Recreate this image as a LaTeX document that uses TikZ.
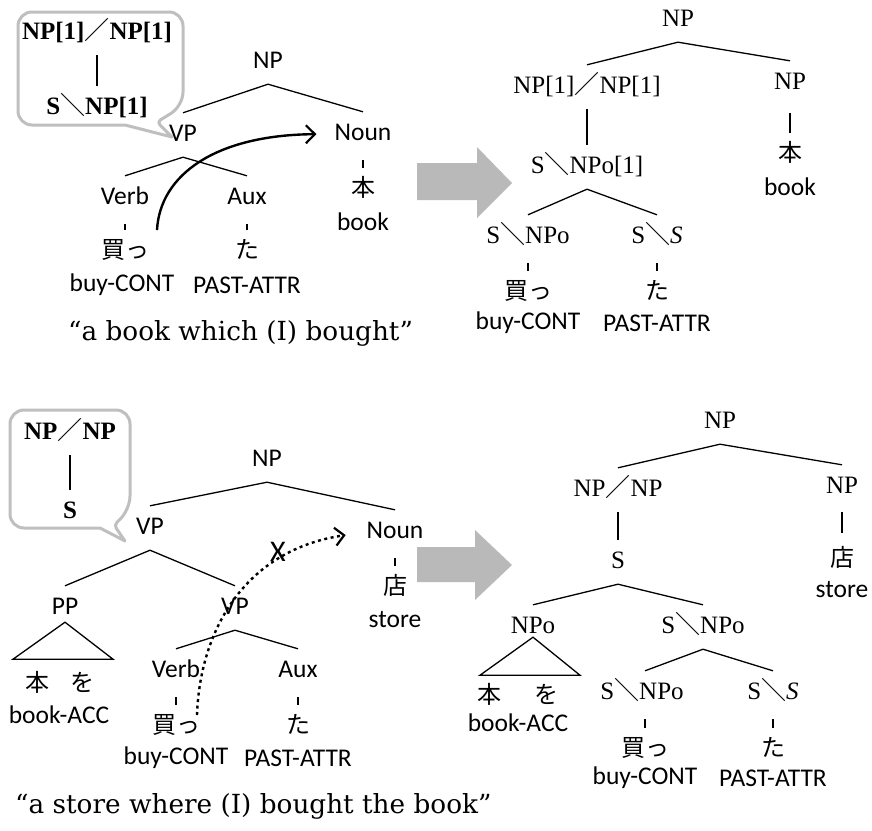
\documentclass[tikz,border=0pt]{standalone}
\usepackage{fontspec}
\newfontfamily\catf{Liberation Serif}
\newfontfamily\sanf{Carlito}
\newfontfamily\jpf{Noto Sans CJK JP}
\newfontfamily\capf{DejaVu Serif}
\newcommand\myfsl{{\mdseries\jpf ／}}
\newcommand\mybsl{{\mdseries\jpf ＼}}
\usetikzlibrary{arrows.meta,calc}
\begin{document}
\begin{tikzpicture}[x=1pt,y=-1pt,
 cat/.style={font=\catf\fontsize{25}{28}\selectfont, text height=17pt, text depth=5pt, inner sep=0pt, minimum height=44pt},
 bcat/.style={cat, font=\catf\bfseries\fontsize{25}{28}\selectfont},
 lab/.style={font=\sanf\fontsize{25.5}{28}\selectfont, text height=17pt, text depth=5pt, inner sep=0pt, minimum height=44pt},
 jp/.style={font=\jpf\fontsize{24}{28}\selectfont, text height=17pt, text depth=5pt, inner sep=0pt, minimum height=44pt},
 gl/.style={font=\sanf\fontsize{25.5}{28}\selectfont, inner sep=0pt},
 captext/.style={font=\capf\fontsize{26.3}{30}\selectfont, inner sep=0pt, anchor=west},
 edge/.style={line width=1.3pt},
 tick/.style={line width=1.3pt, shorten <=4pt},
 bubble/.style={draw=gray!50, line width=3pt, line join=round},
 bigarrow/.style={fill=gray!55, draw=none},
 movearrow/.style={line width=2.4pt, -{Straight Barb[length=9pt,width=18pt,line width=2.2pt]}},
]
\useasboundingbox (0,0) rectangle (872,830);

% ---------- top left ----------
\draw[bubble] [rounded corners=14pt] (18,70) -- (18,12) -- (183,12) -- (183,106) [rounded corners=4pt] -- (157,122) [sharp corners] -- (172,137) -- (125,125) [rounded corners=14pt] -- (18,125) -- cycle;
\node[bcat] (b1t) at (97,33) {NP[1]\myfsl NP[1]};
\node[bcat] (b1b) at (97,108) {S\mybsl NP[1]};
\draw[edge] (b1t.south) -- (b1b.north);

\node[lab] (a-np) at (268,62) {NP};
\node[lab] (a-vp) at (183,135) {VP};
\node[lab] (a-noun) at (363,134) {Noun};
\node[jp] (a-hon) at (363,190) {本};
\node[gl] (a-book) at (363,222) {book};
\node[lab] (a-verb) at (125,198) {Verb};
\node[lab] (a-aux) at (247,198) {Aux};
\node[jp] (a-kat) at (125,252) {買っ};
\node[jp] (a-ta) at (247,252) {た};
\node[gl] (a-buy) at (122,285) {buy-CONT};
\node[gl] (a-past) at (247,285) {PAST-ATTR};
\draw[edge] (a-np.south) -- (a-vp.north);
\draw[edge] (a-np.south) -- (a-noun.north);
\draw[edge] (a-vp.south) -- (a-verb.north);
\draw[edge] (a-vp.south) -- (a-aux.north);
\draw[tick] (a-noun.south) -- (a-hon.north);
\draw[tick] (a-verb.south) -- (a-kat.north);
\draw[tick] (a-aux.south) -- (a-ta.north);
\coordinate (a-from) at (157,230);
\draw[movearrow, shorten >=18pt] (a-from) .. controls (160,175) and (215,135) .. (a-noun.west);
\node[captext] (cap1) at (68,333) {“a book which (I) bought”};

% ---------- big arrows ----------
\fill[bigarrow] (417,163) -- (477,163) -- (477,147) -- (512,183) -- (477,218) -- (477,200) -- (417,200) -- cycle;
\fill[bigarrow] (417,547) -- (475,547) -- (475,530) -- (512,565) -- (475,600) -- (475,582) -- (417,582) -- cycle;

% ---------- top right ----------
\node[cat] (c-np) at (678,20) {NP};
\node[cat] (c-np1) at (587,87) {NP[1]\myfsl NP[1]};
\node[cat] (c-np2) at (790,83) {NP};
\node[jp] (c-hon) at (790,155) {本};
\node[gl] (c-book) at (790,187) {book};
\node[cat] (c-snp) at (587,167) {S\mybsl NPo[1]};
\node[cat] (c-v) at (528,237) {S\mybsl NPo};
\node[cat] (c-a) at (657,237) {S\mybsl\textit{S}};
\node[jp] (c-kat) at (528,293) {買っ};
\node[jp] (c-ta) at (657,293) {た};
\node[gl] (c-buy) at (528,323) {buy-CONT};
\node[gl] (c-past) at (657,323) {PAST-ATTR};
\draw[edge] (c-np.south) -- (c-np1.north);
\draw[edge] (c-np.south) -- (c-np2.north);
\draw[edge] (c-np1.south) -- (c-snp.north);
\draw[edge, shorten <=8pt] (c-np2.south) -- (c-hon.north);
\draw[edge] (c-snp.south) -- (c-v.north);
\draw[edge] (c-snp.south) -- (c-a.north);
\draw[tick] (c-v.south) -- (c-kat.north);
\draw[tick] (c-a.south) -- (c-ta.north);

% ---------- bottom left ----------
\draw[bubble] [rounded corners=14pt] (10,470) -- (10,410) -- (130,410) -- (130,510) [rounded corners=4pt] -- (114,525) [sharp corners] -- (125,541) -- (100,528) [rounded corners=14pt] -- (10,528) -- cycle;
\node[bcat] (b2t) at (70,433) {NP\myfsl NP};
\node[bcat] (b2b) at (70,512) {S};
\draw[edge] (b2t.south) -- (b2b.north);

\node[lab] (d-np) at (267,460) {NP};
\node[lab] (d-vp) at (150,528) {VP};
\node[lab] (d-noun) at (395,532) {Noun};
\node[jp] (d-mise) at (395,588) {店};
\node[gl] (d-store) at (395,620) {store};
\node[lab] (d-pp) at (65,608) {PP};
\node[lab] (d-vp2) at (235,608) {VP};
\node[jp] (d-honwo) at (60,685) {本\hspace{21pt}を};
\node[gl] (d-bacc) at (59,715) {book-ACC};
\node[lab] (d-verb) at (176,671) {Verb};
\node[lab] (d-aux) at (298,671) {Aux};
\node[jp] (d-kat) at (176,727) {買っ};
\node[jp] (d-ta) at (298,727) {た};
\node[gl] (d-buy) at (176,758) {buy-CONT};
\node[gl] (d-past) at (298,758) {PAST-ATTR};
\draw[edge] (d-np.south) -- (d-vp.north);
\draw[edge] (d-np.south) -- (d-noun.north);
\draw[edge] (d-vp.south) -- (d-pp.north);
\draw[edge] (d-vp.south) -- (d-vp2.north);
\draw[edge] (d-vp2.south) -- (d-verb.north);
\draw[edge] (d-vp2.south) -- (d-aux.north);
\draw[edge] ([yshift=8pt]d-pp.south) -- ++(-52,37) -- ++(100,0) -- cycle;
\draw[tick] (d-noun.south) -- (d-mise.north);
\draw[tick] (d-verb.south) -- (d-kat.north);
\draw[tick] (d-aux.south) -- (d-ta.north);
\coordinate (d-from) at (197,715);
\draw[movearrow, dash pattern=on 3pt off 3.5pt, shorten >=21pt] (d-from) .. controls (200,630) and (245,550) .. (d-noun.west);
\node[font=\sanf\fontsize{30}{32}\selectfont, inner sep=0pt] (d-x) at (278,552) {X};
\node[captext] (cap2) at (15,806) {“a store where (I) bought the book”};

% ---------- bottom right ----------
\node[cat] (e-np) at (720,422) {NP};
\node[cat] (e-npnp) at (618,490) {NP\myfsl NP};
\node[cat] (e-np2) at (842,487) {NP};
\node[jp] (e-mise) at (842,560) {店};
\node[gl] (e-store) at (842,590) {store};
\node[cat] (e-s) at (618,562) {S};
\node[cat] (e-npo) at (533,627) {NPo};
\node[jp] (e-honwo) at (518,697) {本\hspace{33pt}を};
\node[gl] (e-bacc) at (518,723) {book-ACC};
\node[cat] (e-snpo) at (703,627) {S\mybsl NPo};
\node[cat] (e-v) at (642,693) {S\mybsl NPo};
\node[cat] (e-a) at (773,693) {S\mybsl\textit{S}};
\node[jp] (e-kat) at (645,750) {買っ};
\node[jp] (e-ta) at (773,750) {た};
\node[gl] (e-buy) at (645,778) {buy-CONT};
\node[gl] (e-past) at (773,778) {PAST-ATTR};
\draw[edge] (e-np.south) -- (e-npnp.north);
\draw[edge] (e-np.south) -- (e-np2.north);
\draw[edge] (e-npnp.south) -- (e-s.north);
\draw[edge, shorten <=3pt, shorten >=5pt] (e-np2.south) -- (e-mise.north);
\draw[edge] (e-s.south) -- (e-npo.north);
\draw[edge] (e-s.south) -- (e-snpo.north);
\draw[edge] ([yshift=12pt]e-npo.south) -- ++(-53,38) -- ++(100,0) -- cycle;
\draw[edge] (e-snpo.south) -- (e-kat.north |- e-v.north);
\draw[edge] (e-snpo.south) -- (e-a.north);
\draw[tick] (e-kat.north |- e-v.south) -- (e-kat.north);
\draw[tick] (e-a.south) -- (e-ta.north);
\end{tikzpicture}
\end{document}
